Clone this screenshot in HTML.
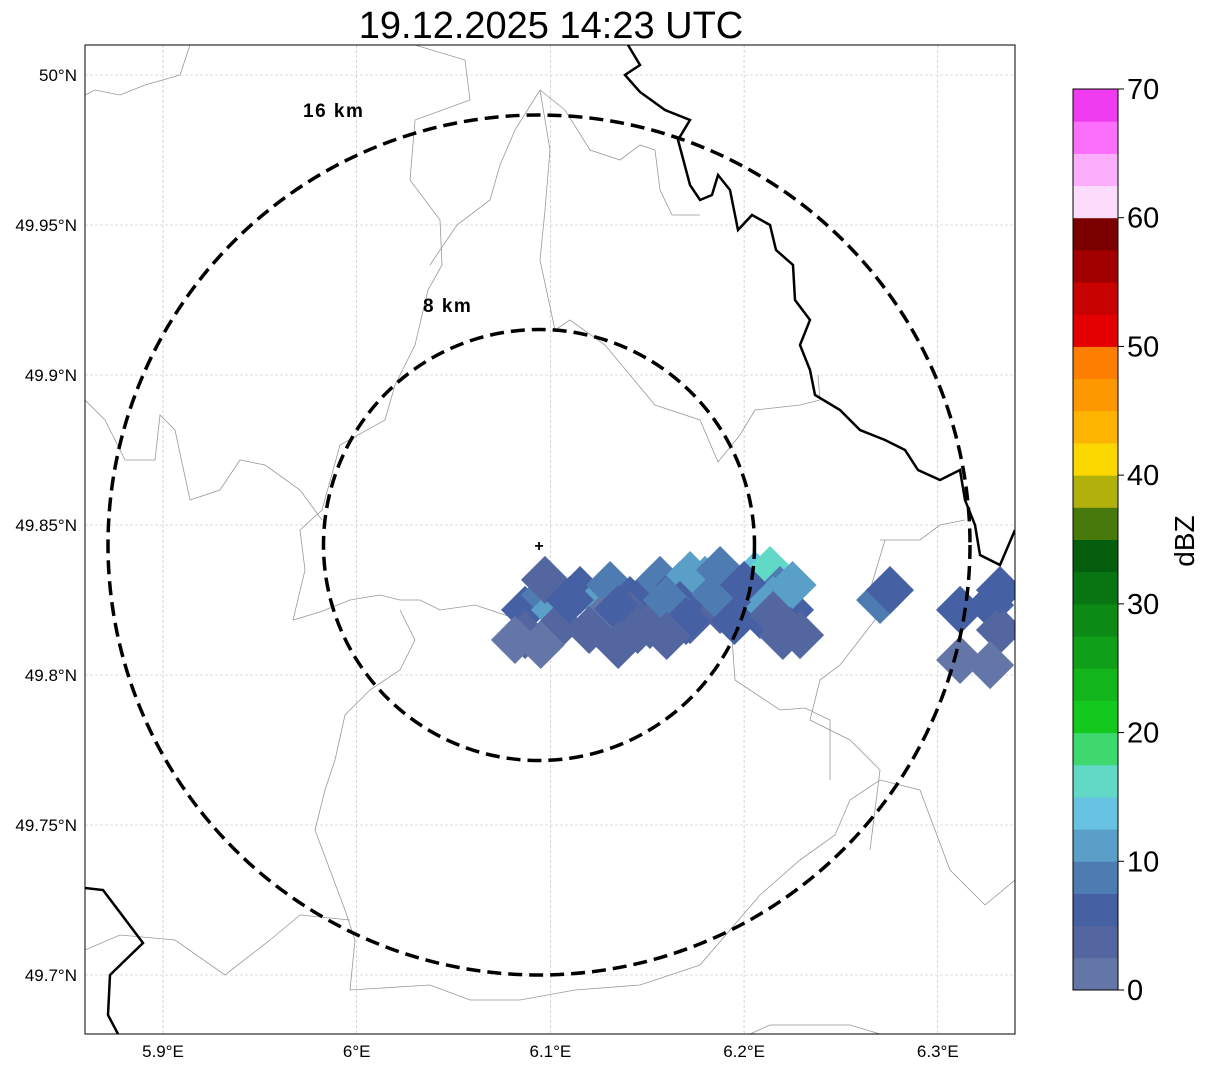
<!DOCTYPE html>
<html><head><meta charset="utf-8"><style>
body{margin:0;background:#fff;}
svg{display:block;font-family:"Liberation Sans","DejaVu Sans",sans-serif;}
</style></head><body>
<svg id="chart" width="1207" height="1069" viewBox="0 0 1207 1069" xmlns="http://www.w3.org/2000/svg">
<rect width="1207" height="1069" fill="#fff"/>
<text x="551" y="38" font-size="38" text-anchor="middle">19.12.2025 14:23 UTC</text>
<defs><clipPath id="mapclip"><rect x="85" y="45" width="930" height="989"/></clipPath></defs>
<g id="grid"></g>
<g clip-path="url(#mapclip)">
<g id="borders" fill="none" stroke="#999" stroke-width="0.8">
<polyline points="85,95 95,90 120,95 145,85 180,75 190,45"/>
<polyline points="415,45 465,60 470,100 415,120 410,180 440,220 442,265 428,290 415,345 395,385 385,420 340,445 322,510 300,530 305,570 293,620 320,612 350,600 380,595 400,600 420,600 440,610 475,605 520,620"/>
<polyline points="540,90 515,130 500,165 490,200 457,225 430,265"/>
<polyline points="540,90 550,150 545,210 540,260 555,330 570,320 605,345 630,375 655,405 700,420 718,462 740,435 755,410 800,405 820,400 818,375"/>
<polyline points="540,90 565,110 590,150 620,160 640,145 655,150 660,190 672,215 700,215"/>
<polyline points="85,400 105,420 125,460 155,460 160,415 175,430 190,500 220,490 240,460 265,465 300,490 322,520"/>
<polyline points="400,610 415,640 400,670 370,690 345,715 335,760 325,790 315,830 330,870 345,910 355,940 350,990 430,985 470,1000 520,1000 575,990 640,985 700,965 760,895 800,860 835,835 850,800 880,780 920,790 950,870 985,905 1015,880"/>
<polyline points="85,950 120,935 175,940 225,975 270,940 300,915 350,920"/>
<polyline points="750,1034 770,1025 850,1025 880,1034"/>
<polyline points="885,540 870,590 875,620 840,665 820,680 810,720 850,740 880,770 870,850"/>
<polyline points="730,610 735,680 780,710 805,708 830,720 830,780"/>
<polyline points="880,540 920,540 940,525 965,520"/>
</g>
<g id="echoes"></g>
<g fill="none" stroke="#000" stroke-width="2.5">
<polyline points="628,45 640,65 625,75 640,92 665,110 690,120 678,140 690,185 700,200 712,195 718,175 730,190 738,230 752,215 770,225 776,250 793,265 795,300 810,320 800,345 810,370 815,395 840,410 860,430 885,440 905,450 918,470 940,480 960,470 965,500 975,525 980,555 1000,565 1015,530"/>
<polyline points="85,888 103,890 143,943 110,975 108,1015 118,1034"/>
</g>
<g id="rings" fill="none" stroke="#000" stroke-width="3.5" stroke-dasharray="14,7">
<ellipse cx="539" cy="545" rx="431" ry="430"/>
<ellipse cx="539" cy="545" rx="215.5" ry="215.5"/>
</g>
</g>
<text x="303" y="117" font-size="19" font-weight="bold" letter-spacing="1.5">16 km</text>
<text x="423" y="312" font-size="19" font-weight="bold" letter-spacing="1.5">8 km</text>
<text x="539" y="551" font-size="16" font-weight="bold" text-anchor="middle">+</text>
<rect x="85" y="45" width="930" height="989" fill="none" stroke="#000" stroke-width="1"/>
<g id="axes" font-size="17"></g>
<g id="cbar"></g>
<text x="1194" y="541" font-size="28" text-anchor="middle" transform="rotate(-90 1194 541)">dBZ</text>
</svg>
<script>
const lonTicks=[5.9,6.0,6.1,6.2,6.3];
const lonLabels=["5.9°E","6°E","6.1°E","6.2°E","6.3°E"];
const latTicks=[50.0,49.95,49.9,49.85,49.8,49.75,49.7];
const latLabels=["50°N","49.95°N","49.9°N","49.85°N","49.8°N","49.75°N","49.7°N"];
const cellLon=[6.0869,6.0972,6.1024,6.1153,6.1256,6.1308,6.1411,6.1514,6.1566,6.1669,6.1721,6.1798,6.1876,6.1953,6.2056,6.2134,6.2185,6.2237,6.2082,6.1876,6.1721,6.1514,6.1256,6.1050,6.0869,6.0817,6.2702,6.2753,6.3115,6.3270,6.3321,6.3115,6.3270,6.2289,6.0972,6.1411,6.1669,6.2056,6.3321,6.1100,6.1350,6.1600,6.1850,6.2000,6.2150,6.1200,6.1450,6.1700,6.1950,6.2150,6.0950,6.1350,6.1600,6.2200,6.2250];
const cellLat=[49.8217,49.8267,49.8217,49.8283,49.8250,49.8300,49.8250,49.8283,49.8317,49.8300,49.8333,49.8317,49.8350,49.8300,49.8333,49.8350,49.8283,49.8217,49.8200,49.8217,49.8183,49.8167,49.8183,49.8167,49.8133,49.8117,49.8250,49.8283,49.8217,49.8233,49.8150,49.8050,49.8033,49.8133,49.8317,49.8200,49.8233,49.8250,49.8283,49.8250,49.8220,49.8250,49.8270,49.8300,49.8250,49.8150,49.8150,49.8180,49.8180,49.8200,49.8100,49.8100,49.8130,49.8130,49.8300];
const cellDbz=[5,8,12,6,10,8,5,7,9,6,11,10,8,9,13,15,8,6,5,4,3,3,2,4,3,2,9,6,5,6,4,2,2,3,4,3,7,12,5,7,6,8,9,6,11,3,4,5,6,4,2,3,3,4,12];
const cbLevels=[0,2.5,5,7.5,10,12.5,15,17.5,20,22.5,25,27.5,30,32.5,35,37.5,40,42.5,45,47.5,50,52.5,55,57.5,60,62.5,65,67.5];
const cbColors=["#6475a8","#5466a0","#4560a3","#4e7bb1","#5a9fc8","#66c2e0","#62d8c6","#3fd86f","#14c91e","#12b51b","#0f9f19","#0b8a16","#087513","#045e0d","#477a0a","#b0b10a","#fcd700","#fdb400","#fd9800","#fd7e00","#e40000","#c70000","#a20000","#7a0000","#fcdcfc","#fcaefc","#fc6efc","#f03cf0"];
const cbTicks=[0,10,20,30,40,50,60,70];

const NS="http://www.w3.org/2000/svg";
const xOf=lon=>163+(lon-5.9)*1937;
const yOf=lat=>75+(50-lat)*3000;
const cbY=v=>990-v*(901/70);
function mk(tag,attrs,parent){const e=document.createElementNS(NS,tag);for(const k in attrs)e.setAttribute(k,attrs[k]);parent.appendChild(e);return e;}
const grid=document.getElementById('grid'),axes=document.getElementById('axes');
lonTicks.forEach((v,i)=>{const x=xOf(v);
 const l=mk('line',{x1:x,x2:x,y1:45,y2:1034,stroke:'#bbb','stroke-width':0.6,'stroke-dasharray':'3,2'},grid);
 
 const t=mk('text',{x:x,y:1057,'text-anchor':'middle'},axes);t.textContent=lonLabels[i];
 });
latTicks.forEach((v,i)=>{const y=yOf(v);
 const l=mk('line',{x1:85,x2:1015,y1:y,y2:y,stroke:'#bbb','stroke-width':0.6,'stroke-dasharray':'3,2'},grid);
 
 const t=mk('text',{x:77,y:y+6,'text-anchor':'end'},axes);t.textContent=latLabels[i];
 });
function colorFor(v){let c=cbColors[0];cbLevels.forEach((l,i)=>{if(v>=l)c=cbColors[i];});return c;}
const echoes=document.getElementById('echoes');
cellLon.forEach((lon,i)=>{const x=xOf(lon),y=yOf(cellLat[i]);const s=34;
 const r=mk('rect',{x:x-s/2,y:y-s/2,width:s,height:s,fill:colorFor(cellDbz[i]),transform:`rotate(45 ${x} ${y})`},echoes);
 });
const cb=document.getElementById('cbar');
cbLevels.forEach((l,i)=>{const y1=cbY(l+2.5),y0=cbY(l);
 const r=mk('rect',{x:1073,y:y1,width:45,height:y0-y1+0.5,fill:cbColors[i]},cb);
 });
const f=mk('rect',{x:1073,y:89,width:45,height:901,fill:'none',stroke:'#000','stroke-width':1},cb);

cbTicks.forEach(v=>{const y=cbY(v);
 const tk=mk('line',{x1:1118,x2:1124,y1:y,y2:y,stroke:'#000'},cb);
 
 const t=mk('text',{x:1127,y:y+10,'font-size':29},cb);t.textContent=v;
 });
</script>
</body></html>
